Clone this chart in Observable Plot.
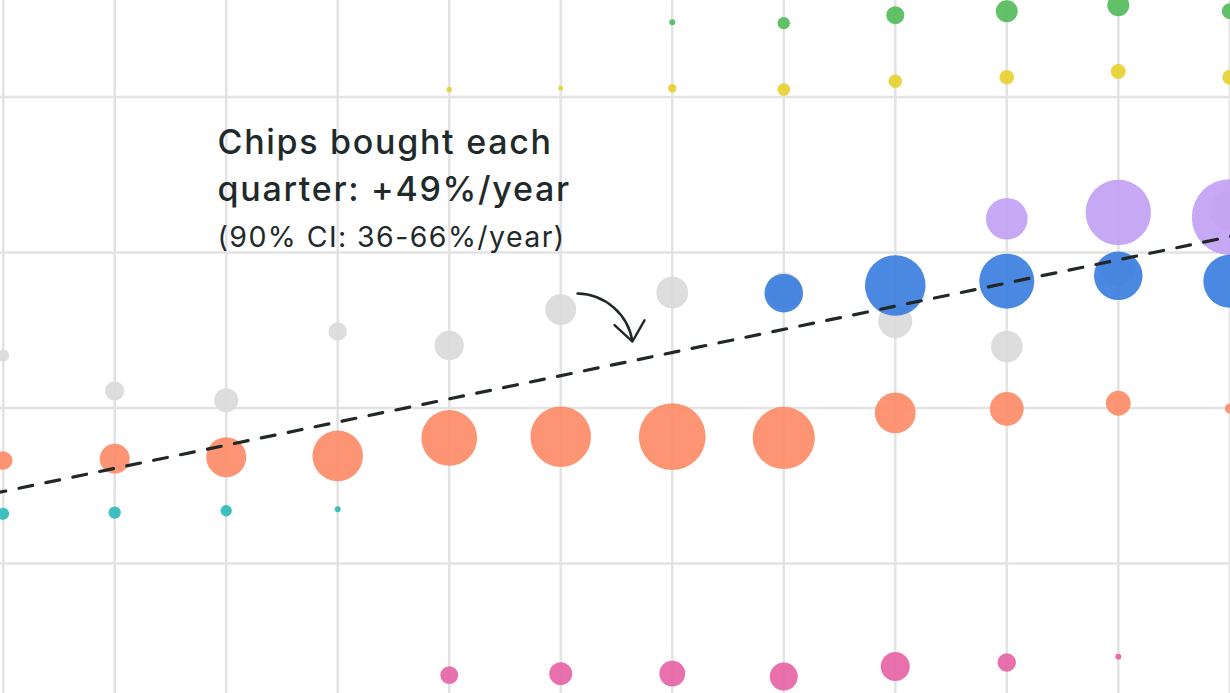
<!DOCTYPE html>
<html>
<head>
<meta charset="utf-8">
<script src="https://cdn.jsdelivr.net/npm/d3@7"></script>
<script src="https://cdn.jsdelivr.net/npm/@observablehq/plot@0.6"></script>
<style>
  html, body { margin: 0; padding: 0; background: #fff; overflow: hidden; }
  #chart { width: 1230px; height: 693px; }
  #chart svg text { letter-spacing: 0.05em; }
</style>
</head>
<body>
<div id="chart"></div>
<script>
// Quarter index (x) for each column of the chart
const quarters = [0, 1, 2, 3, 4, 5, 6, 7, 8, 9, 10, 11];

// y values (log scale) per series, null where absent
const otherY  = [2.527, 2.159, 2.071, 2.813, 2.642, 3.102, 3.347, 3.377, 2.945, 2.631, 3.725, 4.824];
const chipAY  = [1.583, 1.595, 1.606, 1.616, 1.750, 1.760, 1.760, 1.750, 1.957, 1.992, 2.043, 1.995];
const chipBY  = [1.248, 1.255, 1.265, 1.274, null, null, null, null, null, null, null, null];
const chipCY  = [null, null, null, null, 0.608, 0.612, 0.612, 0.604, 0.632, 0.643, 0.660, null];
const chipDY  = [null, null, null, null, 8.272, 8.320, 8.320, 8.272, 8.584, 8.738, 8.963, 8.738];
const chipEY  = [null, null, null, null, null, null, 11.166, 11.117, 11.521, 11.728, 12.045, 11.728];
const chipFY  = [null, null, null, null, null, null, null, null, null, 4.649, 4.781, 4.682];
const chipGY  = [null, null, null, null, null, null, null, 3.336, 3.453, 3.520, 3.605, 3.520];

// quantities bought (dot area)
const otherQ  = [3.6, 9.4, 14.4, 8.6, 21.6, 24.0, 25.6, 32.4, 28.9, 25.0, 28.9, 40.0];
const chipAQ  = [8.6, 22.5, 40.0, 64.0, 77.8, 91.8, 111.6, 96.7, 41.6, 28.6, 15.4, 2.5];
const chipBQ  = [3.6, 3.8, 3.2, 0.9, null, null, null, null, null, null, null, null];
const chipCQ  = [null, null, null, null, 7.9, 13.2, 16.6, 19.6, 21.0, 8.5, 0.9, null];
const chipDQ  = [null, null, null, null, 0.7, 0.6, 1.8, 4.0, 4.5, 5.3, 5.6, 5.6];
const chipEQ  = [null, null, null, null, null, null, 0.9, 3.8, 8.1, 12.1, 12.1, 6.4];
const chipFQ  = [null, null, null, null, null, null, null, null, null, 43.3, 106.9, 144.4];
const chipGQ  = [null, null, null, null, null, null, null, 37.2, 91.8, 75.6, 59.0, 70.2];

// drawing order: first is underneath
const seriesNames  = ["Other", "Chip B", "Chip A", "Chip C", "Chip D", "Chip E", "Chip F", "Chip G"];
const seriesColors = ["#d8d9d8", "#2bb8b8", "#fd8a66", "#e562a4", "#e5d02b", "#51b959", "#c09ff3", "#367bdf"];

// trend line endpoints (quarter, value)
const trendQuarter = [-0.1, 11.1];
const trendValue   = [1.364, 4.337];

// horizontal grid values
const gridValues = [0.5, 1, 2, 4, 8, 16];

// annotation
const noteQuarter = 1.922;
const noteLines  = ["Chips bought each", "quarter: +49%/year"];
const noteValues = [6.205, 5.032];
const ciLine = "(90% CI: 36-66%/year)";
const ciValue = 4.096;
const arrowFrom = {q: 5.150, v: 3.332};
const arrowTo   = {q: 5.643, v: 2.690};

// build table
const seriesY = {"Other": otherY, "Chip A": chipAY, "Chip B": chipBY, "Chip C": chipCY, "Chip D": chipDY, "Chip E": chipEY, "Chip F": chipFY, "Chip G": chipGY};
const seriesQ = {"Other": otherQ, "Chip A": chipAQ, "Chip B": chipBQ, "Chip C": chipCQ, "Chip D": chipDQ, "Chip E": chipEQ, "Chip F": chipFQ, "Chip G": chipGQ};
const rows = [];
for (const s of seriesNames) {
  quarters.forEach((q, i) => {
    if (seriesY[s][i] != null) rows.push({series: s, quarter: q, value: seriesY[s][i], qty: seriesQ[s][i]});
  });
}
const trend = trendQuarter.map((q, i) => ({quarter: q, value: trendValue[i]}));
const notes = noteLines.map((t, i) => ({text: t, quarter: noteQuarter, value: noteValues[i]}));

const chart = Plot.plot({
  width: 1230,
  height: 693,
  margin: 0,
  style: {background: "#fff"},
  x: {type: "linear", domain: [0, 11], range: [2.7, 1229.3], axis: null},
  y: {type: "log", base: 2, domain: [0.5602, 12.30], range: [693, 0], axis: null},
  r: {domain: [0, 100], range: [0, 31.62]},
  color: {type: "ordinal", domain: seriesNames, range: seriesColors},
  marks: [
    Plot.gridX(quarters, {stroke: "#e3e3e3", strokeOpacity: 1, strokeWidth: 2.6}),
    Plot.gridY(gridValues, {stroke: "#e3e3e3", strokeOpacity: 1, strokeWidth: 2.6}),
    Plot.dot(rows, {x: "quarter", y: "value", r: "qty", fill: "series", fillOpacity: 0.9, stroke: null, sort: null}),
    Plot.line(trend, {x: "quarter", y: "value", stroke: "#222727", strokeWidth: 3.2, strokeDasharray: "14,13.5"}),
    Plot.arrow([{x1: arrowFrom.q, y1: arrowFrom.v, x2: arrowTo.q, y2: arrowTo.v}], {
      x1: "x1", y1: "y1", x2: "x2", y2: "y2", bend: 40, stroke: "#222727", strokeWidth: 2.4,
      headLength: 16, headAngle: 77, inset: 0
    }),
    Plot.text(notes, {x: "quarter", y: "value", text: "text", textAnchor: "start", lineAnchor: "bottom",
      fontSize: 34, fontWeight: 500, fontFamily: "Inter", fill: "#1f2a2a"}),
    Plot.text([ciLine], {x: () => noteQuarter, y: () => ciValue, text: d => d, textAnchor: "start", lineAnchor: "bottom",
      fontSize: 28.5, fontWeight: 400, fontFamily: "Inter", fill: "#1f2a2a"})
  ]
});
document.getElementById("chart").appendChild(chart);
</script>
</body>
</html>
